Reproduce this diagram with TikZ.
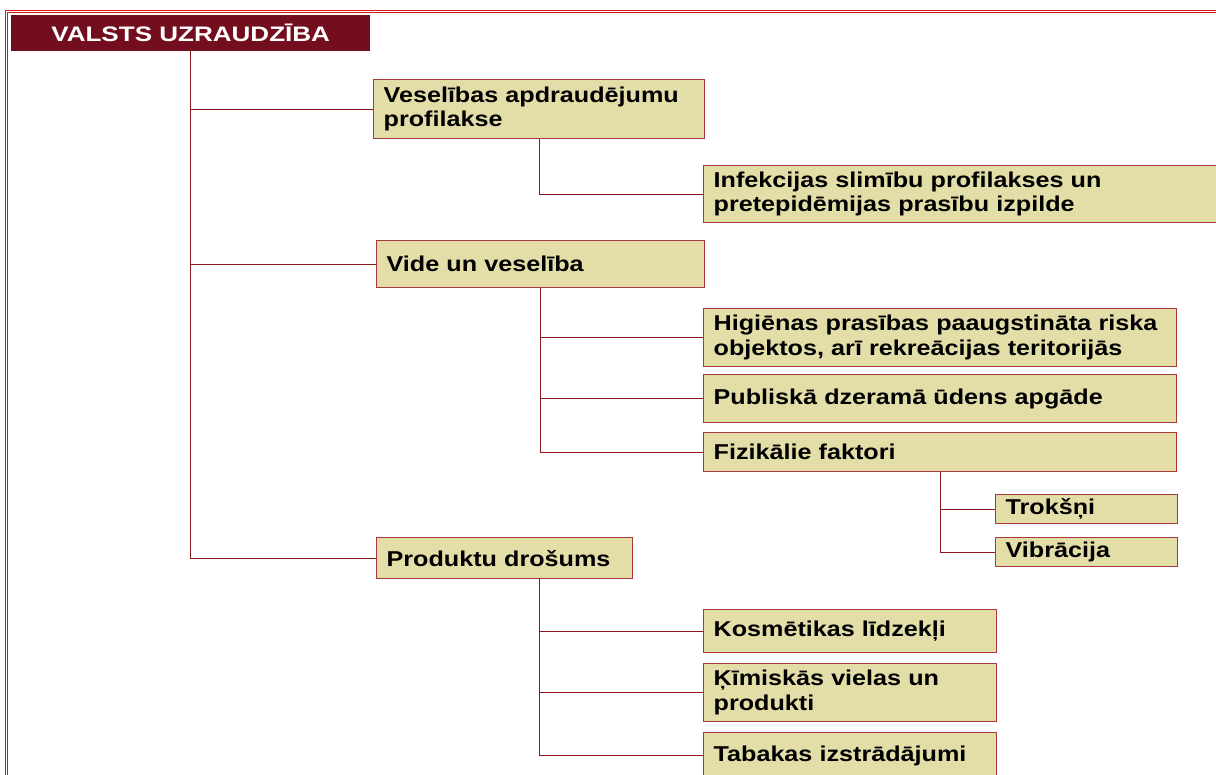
\documentclass[tikz,border=0pt]{standalone}
\usepackage{fontspec}
\setmainfont{Liberation Sans}[FakeStretch=1.17]
\newfontfamily\titlefont{Liberation Sans}[FakeStretch=1.24]
\definecolor{boxfill}{HTML}{E3DEA8}
\definecolor{boxborder}{HTML}{A8383C}
\definecolor{conn}{HTML}{8B1A1A}
\definecolor{titlefill}{HTML}{730E1E}
\definecolor{framered}{HTML}{D81818}
\begin{document}
\begin{tikzpicture}[x=1pt,y=-1pt,
  box/.style={draw=boxborder, fill=boxfill, line width=1.3pt, anchor=north west,
    inner xsep=10pt, inner ysep=0pt, align=left,
    font=\bfseries\fontsize{21.5}{24.5}\selectfont},
  titlebox/.style={fill=titlefill, anchor=north west, inner sep=0pt, text=white,
    font=\titlefont\bfseries\fontsize{21}{24}\selectfont},
  link/.style={draw=conn, line width=1pt}]
\useasboundingbox (0,0) rectangle (1216,775);
\clip (0,0) rectangle (1216,775);
\fill[white] (0,0) rectangle (1216,775);
\draw[framered, line width=1pt, double=white, double distance=0.8pt] (6.5,780) -- (6.5,11.5) -- (1220,11.5);
% title
\node[titlebox, minimum width=359pt, minimum height=36pt] (title) at (11,15) {VALSTS UZRAUDZĪBA};
% level 1
\node[box, text width=311pt, minimum height=59pt] (a) at (373,79) {\mbox{Veselības apdraudējumu}\\profilakse};
\node[box, text width=308pt, minimum height=47pt] (b) at (376,240) {Vide un veselība};
\node[box, text width=236pt, minimum height=41pt] (c) at (376,537) {Produktu drošums};
% level 2
\node[box, text width=520pt, minimum height=57pt] (a1) at (703,165) {\mbox{Infekcijas slimību profilakses un}\\\mbox{pretepidēmijas prasību izpilde}};
\node[box, text width=453pt, minimum height=58pt] (b1) at (703,308) {\mbox{Higiēnas prasības paaugstināta riska}\\\mbox{objektos, arī rekreācijas teritorijās}};
\node[box, text width=453pt, minimum height=48pt] (b2) at (703,374) {Publiskā dzeramā ūdens apgāde};
\node[box, text width=453pt, minimum height=39pt] (b3) at (703,432) {Fizikālie faktori};
\node[box, text width=162pt, minimum height=29pt] (b31) at (995,494) {Trokšņi};
\node[box, text width=162pt, minimum height=29pt] (b32) at (995,537) {Vibrācija};
\node[box, text width=273pt, minimum height=43pt] (c1) at (703,609) {Kosmētikas līdzekļi};
\node[box, text width=273pt, minimum height=58pt] (c2) at (703,663) {\mbox{Ķīmiskās vielas un}\\produkti};
\node[box, text width=273pt, minimum height=46pt] (c3) at (703,732) {Tabakas izstrādājumi};
% connectors
\coordinate (t) at (190,51);
\coordinate (cs) at (539,578);
\draw[link] (t) |- (a.west);
\draw[link] (t) |- (b.west);
\draw[link] (t) |- (c.west);
\draw[link] (a.south) |- (a1.west);
\draw[link] (b.south) |- (b1.west);
\draw[link] (b.south) |- (b2.west);
\draw[link] (b.south) |- (b3.west);
\draw[link] (b3.south) |- (b31.west);
\draw[link] (b3.south) |- (b32.west);
\draw[link] (cs) |- (c1.west);
\draw[link] (cs) |- (c2.west);
\draw[link] (cs) |- (c3.west);
\end{tikzpicture}
\end{document}
